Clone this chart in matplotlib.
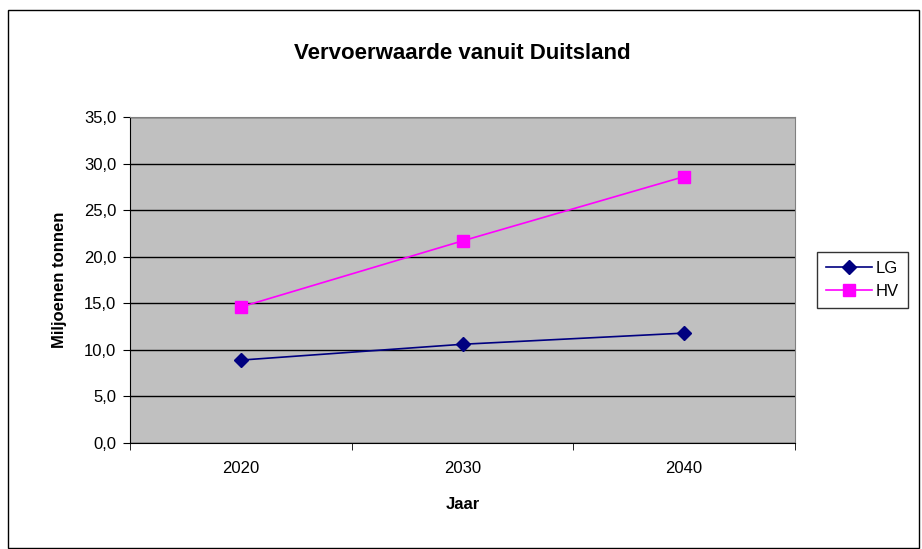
import matplotlib.pyplot as plt
from matplotlib.patches import Rectangle
from matplotlib.ticker import FuncFormatter

plt.rcParams['font.family'] = ['Liberation Sans', 'DejaVu Sans']

jaren = ['2020', '2030', '2040']
lg = [8.9, 10.6, 11.8]
hv = [14.6, 21.7, 28.6]
y_ticks = [0, 5, 10, 15, 20, 25, 30, 35]

fig = plt.figure(figsize=(9.22, 5.49), dpi=100)
ax = fig.add_axes([130 / 922, 1 - 443 / 549, 665 / 922, 326 / 549])
ax.set_facecolor('#c0c0c0')

x = list(range(len(jaren)))
ax.plot(x, lg, color='#000080', marker='D', markersize=7, lw=1.2, label='LG')
ax.plot(x, hv, color='#ff00ff', marker='s', markersize=9, lw=1.2, label='HV')

ax.set_xlim(-0.5, len(jaren) - 0.5)
ax.set_ylim(0, 35)
ax.set_yticks(y_ticks)
ax.yaxis.set_major_formatter(FuncFormatter(lambda v, p: f'{v:.1f}'.replace('.', ',')))
ax.set_xticks(x)
ax.set_xticklabels(jaren)
ax.set_xticks([i - 0.5 for i in range(len(jaren) + 1)], minor=True)
ax.tick_params(axis='x', which='major', length=0, pad=13, labelsize=12)
ax.tick_params(axis='x', which='minor', length=5, direction='out')
ax.tick_params(axis='y', length=5, pad=5, labelsize=12)
ax.grid(axis='y', color='black', lw=1)
ax.set_axisbelow(True)
for s in ['top', 'right']:
    ax.spines[s].set_color('#808080')

ax.set_title('Vervoerwaarde vanuit Duitsland', fontsize=16, fontweight='bold', pad=42)
ax.set_xlabel('Jaar', fontsize=12, fontweight='bold', labelpad=15)
ax.set_ylabel('Miljoenen tonnen', fontsize=12, fontweight='bold', labelpad=12)

leg = ax.legend(loc='center left', bbox_to_anchor=(1.02, 0.5), fontsize=12,
                frameon=True, fancybox=False, edgecolor='black', handlelength=2.8,
                borderpad=0.55, labelspacing=0.45, handletextpad=0.2)
leg.get_frame().set_linewidth(1)

fig.patches.append(Rectangle((8 / 922, 0.002), 911 / 922, 1 - 10 / 549 - 0.002,
                             transform=fig.transFigure, fill=False,
                             edgecolor='black', lw=1))

fig.savefig('out.png', dpi=100)
